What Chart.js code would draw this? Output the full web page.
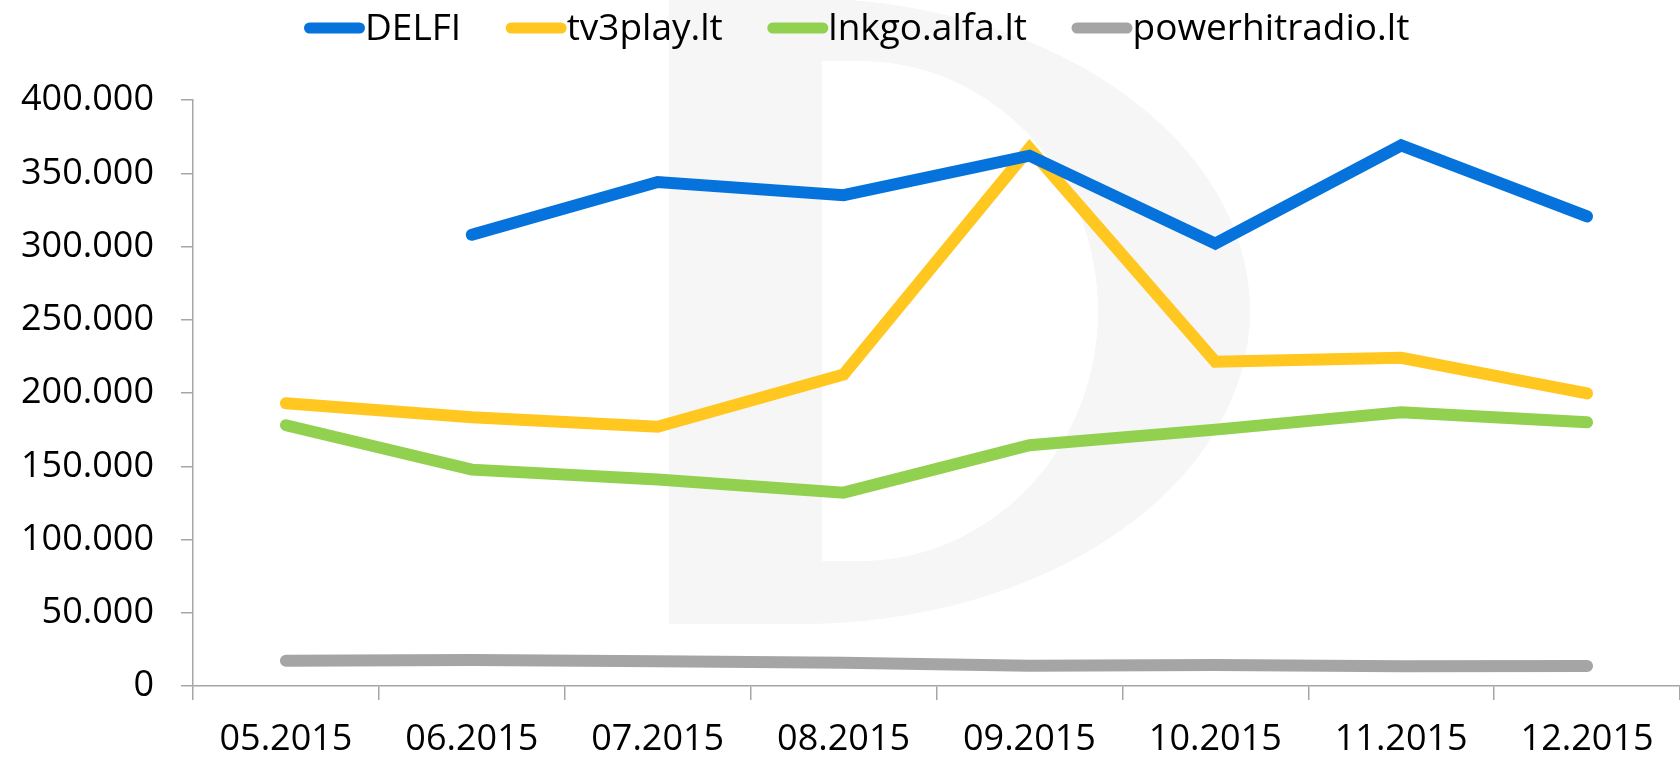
<!DOCTYPE html>
<html>
<head>
<meta charset="utf-8">
<script src="https://cdn.jsdelivr.net/npm/chart.js@4.4.1/dist/chart.umd.min.js"></script>
<style>
html,body{margin:0;padding:0;background:#fff;}
#wrap{position:relative;width:1680px;height:759px;}
</style>
</head>
<body>
<div id="wrap"><canvas id="c"></canvas></div>
<script>
const categories = ['05.2015','06.2015','07.2015','08.2015','09.2015','10.2015','11.2015','12.2015'];
const delfi = [null, 308000, 344000, 335000, 362000, 302000, 369000, 320500];
const tv3play = [193000, 183500, 177000, 212600, 367000, 221300, 224000, 199700];
const lnkgo = [178000, 147700, 141000, 132000, 164300, 175000, 186900, 180000];
const powerhitradio = [17300, 17800, 16900, 15900, 13900, 14400, 13500, 13700];
const seriesNames = ['DELFI','tv3play.lt','lnkgo.alfa.lt','powerhitradio.lt'];
const yTicks = [0, 50000, 100000, 150000, 200000, 250000, 300000, 350000, 400000];

const colors = ['#0573db', '#ffc720', '#92d050', '#a5a5a5'];
const FONT = '"Open Sans", "Noto Sans", sans-serif';
const AXIS = '#a6a6a6';

function fmt(v){ return String(v).replace(/\B(?=(\d{3})+(?!\d))/g, '.'); }

const watermark = {
  id: 'watermark',
  beforeDraw(chart){
    const ctx = chart.ctx;
    ctx.save();
    ctx.fillStyle = '#f6f6f6';
    ctx.beginPath();
    // outer D
    ctx.moveTo(669, -2);
    ctx.lineTo(800, -2);
    ctx.ellipse(800, 311, 450, 313, 0, -Math.PI/2, Math.PI/2, false);
    ctx.lineTo(669, 624);
    ctx.closePath();
    // inner hole
    ctx.moveTo(822, 61);
    ctx.lineTo(860, 61);
    ctx.ellipse(860, 311, 238, 250, 0, -Math.PI/2, Math.PI/2, false);
    ctx.lineTo(822, 561);
    ctx.closePath();
    ctx.fill('evenodd');
    ctx.restore();
  }
};

const customLegend = {
  id: 'customLegend',
  afterDraw(chart){
    const ctx = chart.ctx;
    ctx.save();
    ctx.font = '37px ' + FONT;
    ctx.textBaseline = 'alphabetic';
    ctx.textAlign = 'left';
    let x = 304;
    const markerW = 61, lw = 11, yMid = 28, gap = 44.5;
    chart.data.datasets.forEach((ds) => {
      ctx.strokeStyle = ds.borderColor;
      ctx.lineWidth = lw;
      ctx.lineCap = 'round';
      ctx.beginPath();
      ctx.moveTo(x + lw/2, yMid);
      ctx.lineTo(x + markerW - lw/2, yMid);
      ctx.stroke();
      ctx.fillStyle = '#000';
      const tx = x + markerW;
      ctx.fillText(ds.label, tx, 40);
      x = tx + ctx.measureText(ds.label).width + gap;
    });
    ctx.restore();
  }
};

const seriesData = [delfi, tv3play, lnkgo, powerhitradio];

new Chart(document.getElementById('c'), {
  type: 'line',
  data: {
    labels: categories,
    datasets: seriesNames.map((n, i) => ({
      label: n,
      data: seriesData[i],
      borderColor: colors[i],
      backgroundColor: colors[i],
      borderWidth: 12,
      borderCapStyle: 'round',
      borderJoinStyle: 'miter',
      pointRadius: 0,
      pointHoverRadius: 0,
      tension: 0,
      fill: false
    }))
  },
  options: {
    responsive: true,
    maintainAspectRatio: false,
    animation: false,
    events: [],
    layout: { padding: { top: 100, left: 0, right: 0, bottom: 0 } },
    plugins: {
      legend: { display: false },
      tooltip: { enabled: false }
    },
    scales: {
      x: {
        type: 'category',
        offset: true,
        afterFit(s){ s.height = 73; },
        grid: { display: true, offset: true, drawOnChartArea: false, drawTicks: true, tickLength: 14, color: AXIS, lineWidth: 1.5 },
        border: { display: true, color: AXIS, width: 1.5 },
        ticks: { color: '#000', font: { family: FONT, size: 36 }, padding: 18, maxRotation: 0, autoSkip: false }
      },
      y: {
        min: 0,
        max: 400000,
        afterFit(s){ s.width = 193; },
        afterBuildTicks(s){ s.ticks = yTicks.map(v => ({ value: v })); },
        grid: { display: true, drawOnChartArea: false, drawTicks: true, tickLength: 12, color: AXIS, lineWidth: 1.5 },
        border: { display: true, color: AXIS, width: 1.5 },
        ticks: { color: '#000', font: { family: FONT, size: 36 }, padding: 27, callback: (v) => fmt(v) }
      }
    }
  },
  plugins: [watermark, customLegend]
});
</script>
</body>
</html>
